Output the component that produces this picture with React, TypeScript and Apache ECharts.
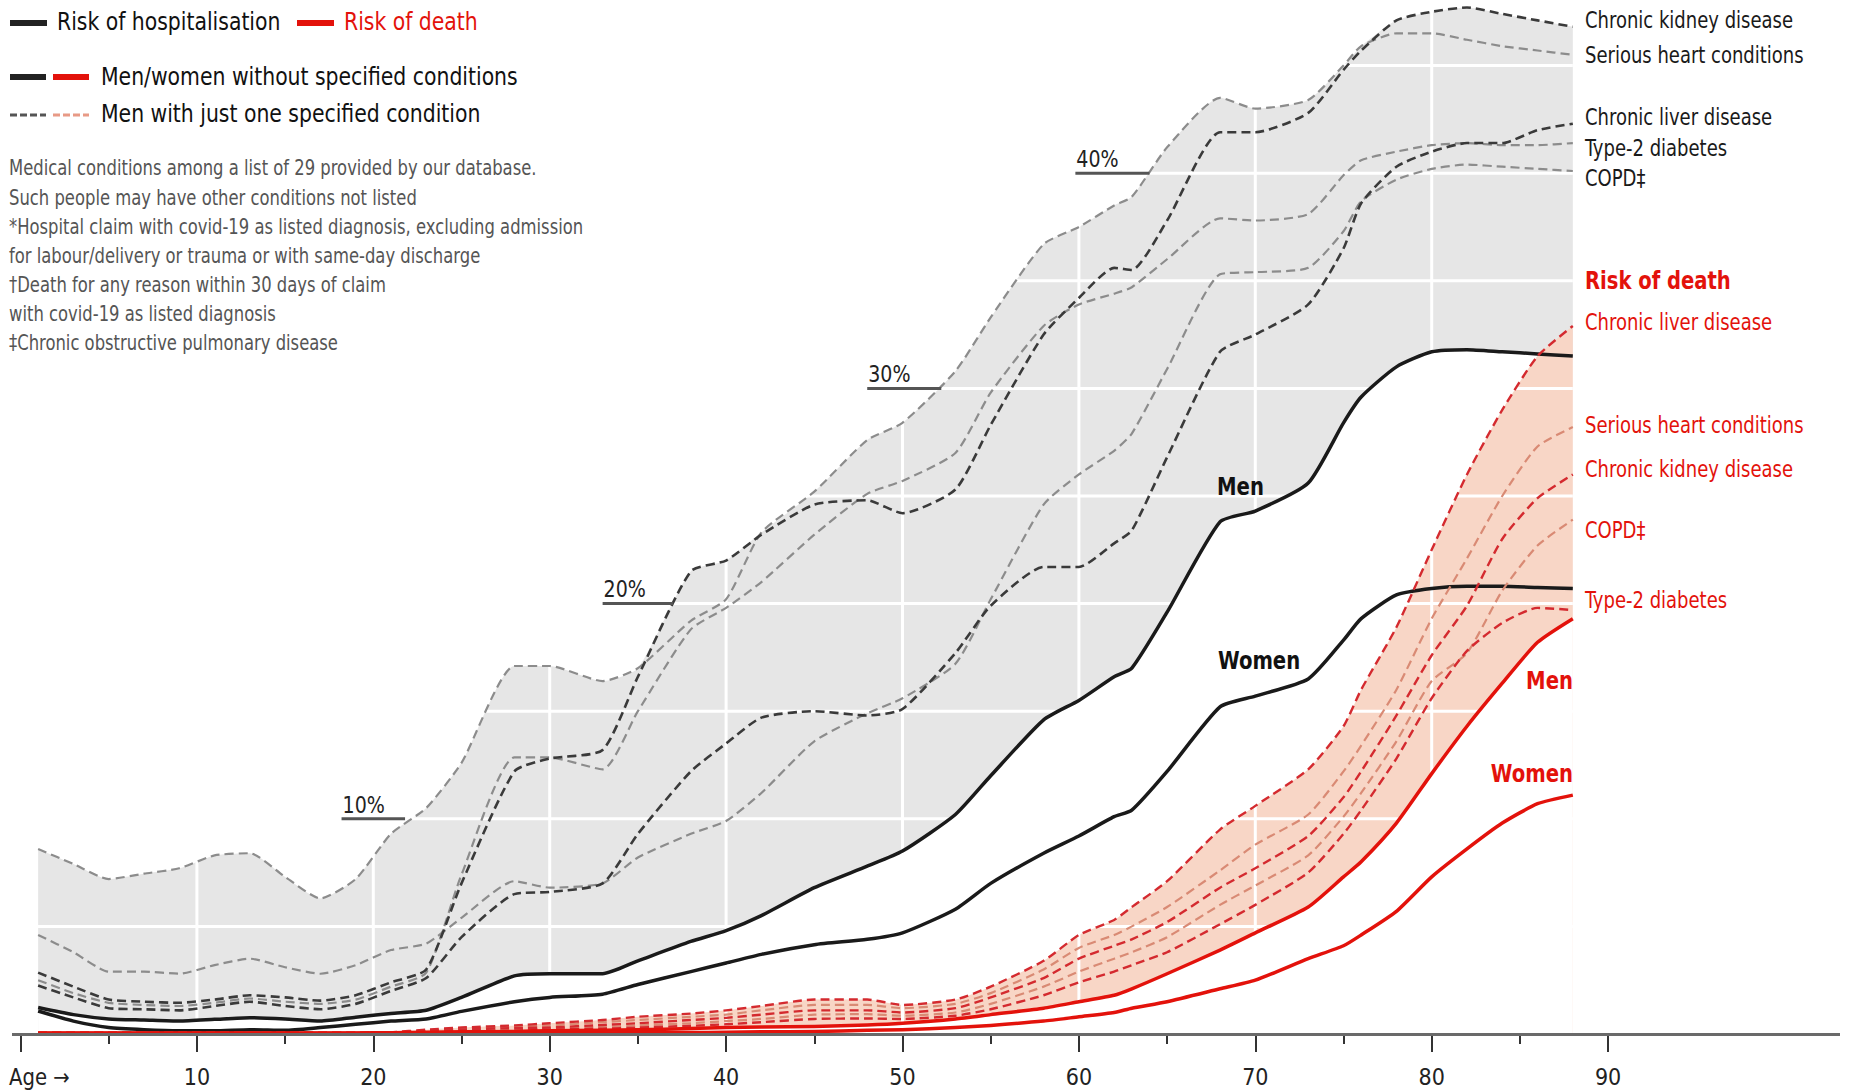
import React, { useEffect, useRef } from 'react';
import * as echarts from 'echarts';

// ---- data ----
const AGES = [1, 3, 5, 7, 9, 11, 13, 15, 17, 19, 21, 23, 25, 28, 30, 33, 35, 38, 40, 42, 45, 48, 50, 53, 55, 58, 60, 62, 63, 65, 68, 70, 73, 75, 76, 78, 80, 82, 84, 86, 88];

// Risk of hospitalisation, %
const HOSP_MEN = [1.23, 0.9, 0.7, 0.65, 0.6, 0.68, 0.76, 0.7, 0.6, 0.78, 0.95, 1.1, 1.7, 2.7, 2.8, 2.8, 3.4, 4.3, 4.8, 5.5, 6.8, 7.8, 8.5, 10.2, 12.0, 14.6, 15.5, 16.6, 17.0, 19.6, 23.8, 24.3, 25.6, 28.4, 29.6, 31.0, 31.7, 31.8, 31.7, 31.6, 31.5];
const HOSP_WOMEN = [1.07, 0.6, 0.3, 0.2, 0.15, 0.15, 0.2, 0.17, 0.3, 0.45, 0.6, 0.7, 1.05, 1.5, 1.7, 1.85, 2.3, 2.9, 3.3, 3.7, 4.15, 4.4, 4.7, 5.8, 7.0, 8.4, 9.2, 10.1, 10.4, 12.2, 15.2, 15.7, 16.5, 18.3, 19.3, 20.4, 20.7, 20.8, 20.8, 20.75, 20.7];
const HOSP_CKD = [2.85, 2.2, 1.6, 1.5, 1.45, 1.6, 1.8, 1.7, 1.55, 1.8, 2.4, 3.0, 7.0, 12.2, 12.8, 13.2, 16.6, 21.5, 22.0, 23.2, 24.6, 24.8, 24.2, 25.3, 28.3, 32.5, 34.2, 35.6, 35.5, 37.8, 41.9, 41.9, 42.8, 44.8, 45.7, 47.1, 47.5, 47.7, 47.4, 47.1, 46.8];
const HOSP_HEART = [8.6, 7.9, 7.2, 7.45, 7.7, 8.3, 8.4, 7.3, 6.3, 7.2, 9.3, 10.5, 12.6, 17.1, 17.1, 16.4, 17.0, 19.2, 20.2, 23.3, 25.2, 27.6, 28.4, 30.8, 33.3, 36.7, 37.5, 38.5, 38.9, 41.2, 43.5, 43.0, 43.4, 45.0, 45.9, 46.5, 46.5, 46.2, 45.9, 45.7, 45.5];
const HOSP_LIVER = [2.25, 1.7, 1.2, 1.15, 1.1, 1.3, 1.5, 1.3, 1.15, 1.4, 2.0, 2.6, 4.5, 6.5, 6.6, 7.0, 9.3, 12.2, 13.5, 14.7, 15.0, 14.8, 15.1, 17.7, 19.9, 21.7, 21.7, 22.8, 23.4, 26.8, 31.7, 32.5, 33.9, 36.5, 38.6, 40.3, 41.0, 41.4, 41.4, 42.0, 42.3];
const HOSP_T2D = [2.5, 1.9, 1.45, 1.35, 1.3, 1.45, 1.65, 1.5, 1.4, 1.6, 2.2, 2.85, 7.4, 12.85, 12.85, 12.3, 15.0, 18.8, 19.8, 21.0, 23.2, 25.1, 25.7, 27.0, 29.8, 32.9, 33.9, 34.4, 34.7, 36.0, 37.9, 37.8, 38.1, 39.9, 40.6, 41.0, 41.3, 41.4, 41.3, 41.3, 41.4];
const HOSP_COPD = [4.6, 3.8, 2.9, 2.9, 2.8, 3.2, 3.5, 3.1, 2.8, 3.2, 3.9, 4.2, 5.4, 7.1, 6.8, 7.0, 8.2, 9.3, 9.9, 11.2, 13.6, 14.9, 15.6, 17.2, 20.2, 24.6, 26.0, 27.1, 27.9, 30.9, 35.3, 35.4, 35.6, 37.3, 38.7, 39.7, 40.2, 40.4, 40.3, 40.2, 40.1];

// Risk of death, %
const DEATH_MEN = [0.05, 0.05, 0.05, 0.05, 0.05, 0.05, 0.05, 0.05, 0.05, 0.05, 0.06, 0.08, 0.1, 0.12, 0.15, 0.18, 0.2, 0.25, 0.3, 0.32, 0.35, 0.42, 0.5, 0.7, 0.9, 1.2, 1.5, 1.8, 2.1, 2.8, 3.9, 4.7, 5.9, 7.3, 8.0, 9.8, 12.1, 14.3, 16.3, 18.2, 19.3];
const DEATH_WOMEN = [0.03, 0.03, 0.03, 0.03, 0.03, 0.03, 0.03, 0.03, 0.03, 0.03, 0.03, 0.03, 0.03, 0.04, 0.05, 0.05, 0.06, 0.07, 0.08, 0.1, 0.12, 0.17, 0.2, 0.3, 0.4, 0.6, 0.8, 1.0, 1.2, 1.5, 2.1, 2.5, 3.5, 4.1, 4.6, 5.7, 7.3, 8.6, 9.8, 10.7, 11.1];
const DEATH_LIVER = [0.05, 0.05, 0.05, 0.05, 0.05, 0.05, 0.05, 0.05, 0.05, 0.05, 0.08, 0.2, 0.3, 0.4, 0.5, 0.65, 0.8, 0.95, 1.1, 1.3, 1.6, 1.6, 1.35, 1.6, 2.2, 3.4, 4.6, 5.3, 5.9, 7.1, 9.5, 10.6, 12.3, 14.3, 16.0, 18.9, 22.5, 26.0, 29.0, 31.5, 32.9];
const DEATH_HEART = [0.05, 0.05, 0.05, 0.05, 0.05, 0.05, 0.05, 0.05, 0.05, 0.05, 0.07, 0.15, 0.25, 0.35, 0.4, 0.55, 0.65, 0.8, 0.9, 1.1, 1.35, 1.35, 1.2, 1.4, 1.9, 3.0, 4.0, 4.6, 5.0, 5.9, 7.6, 8.8, 10.2, 12.2, 13.4, 16.0, 19.3, 22.1, 25.0, 27.3, 28.2];
const DEATH_CKD = [0.05, 0.05, 0.05, 0.05, 0.05, 0.05, 0.05, 0.05, 0.05, 0.05, 0.06, 0.12, 0.2, 0.28, 0.3, 0.42, 0.5, 0.65, 0.75, 0.9, 1.1, 1.1, 1.0, 1.2, 1.7, 2.6, 3.5, 4.1, 4.4, 5.2, 6.8, 7.7, 9.2, 11.0, 12.2, 14.8, 17.6, 19.9, 23.0, 24.9, 26.0];
const DEATH_COPD = [0.05, 0.05, 0.05, 0.05, 0.05, 0.05, 0.05, 0.05, 0.05, 0.05, 0.06, 0.1, 0.15, 0.2, 0.25, 0.32, 0.4, 0.5, 0.6, 0.7, 0.9, 0.92, 0.85, 1.0, 1.4, 2.2, 2.9, 3.5, 3.8, 4.5, 6.0, 6.9, 8.3, 10.1, 11.2, 13.6, 16.4, 17.7, 20.6, 22.7, 23.9];
const DEATH_T2D = [0.05, 0.05, 0.05, 0.05, 0.05, 0.05, 0.05, 0.05, 0.05, 0.05, 0.06, 0.08, 0.1, 0.15, 0.2, 0.25, 0.3, 0.38, 0.45, 0.55, 0.7, 0.72, 0.7, 0.85, 1.15, 1.8, 2.4, 2.9, 3.2, 3.8, 5.1, 6.0, 7.5, 9.3, 10.4, 12.8, 15.6, 17.8, 19.1, 19.8, 19.7];

// axis / annotation values
const H_GRID = [5, 10, 15, 20, 25, 30, 35, 40, 45];
const V_GRID = [10, 20, 30, 40, 50, 60, 70, 80];
const PCT_LEVELS = [10, 20, 30, 40];
const PCT_FROM = [18.2, 33.0, 48.0, 59.8];
const PCT_TO = [21.8, 37.0, 52.2, 64.0];
const PCT_LABELS = ['10%', '20%', '30%', '40%'];

const FONT = "'Liberation Sans Narrow', 'Arial Narrow', 'DejaVu Sans Condensed', sans-serif";

const BLACK = '#1a1a1a';
const RED = '#e3120b';
const DARK_DASH = '#3a3a3a';
const LIGHT_DASH = '#8c8c8c';
const RED_DARK_DASH = '#d42a2f';
const RED_LIGHT_DASH = '#d98a74';

const pts = (vals: number[]) => AGES.map((a, i) => [a, vals[i]]);
const maxOf = (arrs: number[][]) => AGES.map((_, i) => Math.max(...arrs.map((a) => a[i])));

export default function App() {
  const ref = useRef<HTMLDivElement>(null);

  useEffect(() => {
    const chart = echarts.init(ref.current!, null, { renderer: 'svg' });

    const hospMax = maxOf([HOSP_CKD, HOSP_HEART, HOSP_LIVER, HOSP_T2D, HOSP_COPD]);
    const deathMax = maxOf([DEATH_LIVER, DEATH_HEART, DEATH_CKD, DEATH_COPD, DEATH_T2D]);

    const SMOOTH = 0.2;

    const area = (name: string, vals: number[], color: string): any => ({
      name,
      type: 'line',
      data: pts(vals),
      smooth: SMOOTH,
      symbol: 'none',
      lineStyle: { width: 0, opacity: 0 },
      areaStyle: { color, opacity: 1 },
      silent: true,
      z: 1,
    });

    const line = (name: string, vals: number[], color: string, width: number, dashed: boolean, z = 4): any => ({
      name,
      type: 'line',
      data: pts(vals),
      smooth: SMOOTH,
      symbol: 'none',
      lineStyle: { color, width, type: dashed ? [9, 5] : 'solid', cap: 'butt', join: 'round' },
      silent: true,
      z,
    });

    const gridSegs: number[][] = [
      ...H_GRID.map((v) => [0, v, 88, v]),
      ...V_GRID.map((a) => [a, 0, a, 48]),
    ];

    const text = (
      t: string,
      x: number,
      y: number,
      size: number,
      color: string,
      sx = 1,
      weight = 'normal',
      align = 'left'
    ): any => ({
      type: 'text',
      x,
      y,
      scaleX: sx,
      z: 60,
      silent: true,
      style: { text: t, fill: color, font: `${weight} ${size}px ${FONT}`, align, verticalAlign: 'middle', lineHeight: size },
    });

    const notes = [
      'Medical conditions among a list of 29 provided by our database.',
      'Such people may have other conditions not listed',
      '*Hospital claim with covid-19 as listed diagnosis, excluding admission',
      'for labour/delivery or trauma or with same-day discharge',
      '\u2020Death for any reason within 30 days of claim',
      'with covid-19 as listed diagnosis',
      '\u2021Chronic obstructive pulmonary disease',
    ];
    const noteY = [168, 198, 227, 256, 285, 314, 343];

    const LEG = 0.945; // horizontal squeeze to imitate the condensed face
    const NOTE = 0.89;
    const LAB = 0.87;

    const option: any = {
      animation: false,
      backgroundColor: '#ffffff',
      grid: { left: 20.5, right: 246.9, top: 1, bottom: 57, containLabel: false },
      xAxis: {
        type: 'value',
        min: 0,
        max: 90,
        interval: 10,
        axisLine: { show: false },
        axisTick: { show: true, length: 18, lineStyle: { color: '#333', width: 2 } },
        minorTick: { show: true, splitNumber: 2, length: 10, lineStyle: { color: '#333', width: 2 } },
        splitLine: { show: false },
        minorSplitLine: { show: false },
        axisLabel: {
          margin: 31,
          fontSize: 23,
          lineHeight: 23,
          fontFamily: FONT,
          color: '#222',
          formatter: (v: number) => (v === 0 ? '' : String(v)),
        },
      },
      yAxis: { type: 'value', min: 0, max: 48, show: false },
      series: [
        // fills: grey band between men and the highest condition line, pink band likewise
        area('hospMax', hospMax, '#e6e6e6'),
        area('hospMenCover', HOSP_MEN, '#ffffff'),
        area('deathMax', deathMax, '#f8d6c6'),
        area('deathMenCover', DEATH_MEN, '#ffffff'),
        // white grid lines over the fills
        {
          type: 'custom',
          name: 'grid',
          silent: true,
          z: 2,
          data: gridSegs,
          encode: { x: [0, 2], y: [1, 3] },
          renderItem: (_p: any, api: any) => {
            const a = api.coord([api.value(0), api.value(1)]);
            const b = api.coord([api.value(2), api.value(3)]);
            return {
              type: 'line',
              shape: { x1: a[0], y1: a[1], x2: b[0], y2: b[1] },
              style: { stroke: '#ffffff', lineWidth: 3 },
            };
          },
        },
        // hospitalisation
        line('Serious heart conditions', HOSP_HEART, LIGHT_DASH, 2.2, true),
        line('Type-2 diabetes', HOSP_T2D, LIGHT_DASH, 2.2, true),
        line('COPD', HOSP_COPD, LIGHT_DASH, 2.2, true),
        line('Chronic kidney disease', HOSP_CKD, DARK_DASH, 2.6, true),
        line('Chronic liver disease', HOSP_LIVER, DARK_DASH, 2.6, true),
        line('Men (hospitalisation)', HOSP_MEN, BLACK, 3.5, false, 5),
        line('Women (hospitalisation)', HOSP_WOMEN, BLACK, 3.5, false, 5),
        // death
        line('Serious heart conditions (death)', DEATH_HEART, RED_LIGHT_DASH, 2.2, true, 6),
        line('COPD (death)', DEATH_COPD, RED_LIGHT_DASH, 2.2, true, 6),
        line('Chronic liver disease (death)', DEATH_LIVER, RED_DARK_DASH, 2.4, true, 6),
        line('Chronic kidney disease (death)', DEATH_CKD, RED_DARK_DASH, 2.4, true, 6),
        line('Type-2 diabetes (death)', DEATH_T2D, RED_DARK_DASH, 2.4, true, 6),
        line('Men (death)', DEATH_MEN, RED, 3.5, false, 7),
        line('Women (death)', DEATH_WOMEN, RED, 3.5, false, 7),
        // percentage labels
        {
          type: 'custom',
          name: 'pct',
          silent: true,
          z: 8,
          data: PCT_LEVELS.map((v, i) => [PCT_FROM[i], v, PCT_TO[i]]),
          encode: { x: [0, 2], y: 1 },
          renderItem: (p: any, api: any) => {
            const a = api.coord([api.value(0), api.value(1)]);
            const b = api.coord([api.value(2), api.value(1)]);
            return {
              type: 'group',
              children: [
                { type: 'line', shape: { x1: a[0], y1: a[1], x2: b[0], y2: b[1] }, style: { stroke: '#555', lineWidth: 3 } },
                {
                  type: 'text',
                  x: a[0] + 1,
                  y: a[1] - 3,
                  scaleX: 0.92,
                  style: { text: PCT_LABELS[p.dataIndex], fill: '#222', font: `23px ${FONT}`, align: 'left', verticalAlign: 'bottom' },
                },
              ],
            };
          },
        },
      ],
      graphic: {
        elements: [
          // x axis line
          { type: 'line', z: 50, silent: true, shape: { x1: 12, y1: 1034.5, x2: 1840, y2: 1034.5 }, style: { stroke: '#6a6a6a', lineWidth: 3 } },
          text('Age \u2192', 9, 1077, 23, '#222', 0.95),
          // legend
          { type: 'rect', z: 60, shape: { x: 10, y: 20, width: 37, height: 6 }, style: { fill: '#222' } },
          text('Risk of hospitalisation', 57, 22, 24, '#111', LEG),
          { type: 'rect', z: 60, shape: { x: 297, y: 20, width: 37, height: 6 }, style: { fill: RED } },
          text('Risk of death', 344, 22, 24, RED, LEG),
          { type: 'rect', z: 60, shape: { x: 10, y: 74, width: 36, height: 6 }, style: { fill: '#222' } },
          { type: 'rect', z: 60, shape: { x: 53, y: 74, width: 36, height: 6 }, style: { fill: RED } },
          text('Men/women without specified conditions', 101, 77, 24, '#111', LEG),
          { type: 'line', z: 60, shape: { x1: 10, y1: 115, x2: 46, y2: 115 }, style: { stroke: '#555', lineWidth: 3, lineDash: [7, 3] } },
          { type: 'line', z: 60, shape: { x1: 53, y1: 115, x2: 89, y2: 115 }, style: { stroke: '#e89a86', lineWidth: 3, lineDash: [7, 3] } },
          text('Men with just one specified condition', 101, 114, 24, '#111', LEG),
          ...notes.map((t, i) => text(t, 9, noteY[i], 20.5, '#555', NOTE)),
          // right-hand labels: hospitalisation
          text('Chronic kidney disease', 1585, 20, 23, BLACK, LAB),
          text('Serious heart conditions', 1585, 55, 23, BLACK, LAB),
          text('Chronic liver disease', 1585, 117, 23, BLACK, LAB),
          text('Type-2 diabetes', 1585, 148, 23, BLACK, LAB),
          text('COPD\u2021', 1585, 178, 23, BLACK, LAB),
          // right-hand labels: death
          text('Risk of death', 1585, 280, 25, RED, 0.87, 'bold'),
          text('Chronic liver disease', 1585, 322, 23, RED, LAB),
          text('Serious heart conditions', 1585, 425, 23, RED, LAB),
          text('Chronic kidney disease', 1585, 469, 23, RED, LAB),
          text('COPD\u2021', 1585, 530, 23, RED, LAB),
          text('Type-2 diabetes', 1585, 600, 23, RED, LAB),
          // in-chart labels
          text('Men', 1217, 487, 24, '#111', 0.91, 'bold'),
          text('Women', 1218, 661, 24, '#111', 0.91, 'bold'),
          text('Men', 1573, 681, 24, RED, 0.91, 'bold', 'right'),
          text('Women', 1573, 774, 24, RED, 0.91, 'bold', 'right'),
        ],
      },
    };

    chart.setOption(option);
    return () => chart.dispose();
  }, []);

  return (
    <div
      ref={ref}
      style={{ position: 'fixed', left: 0, top: 0, width: 1855, height: 1091, background: '#ffffff' }}
    />
  );
}
